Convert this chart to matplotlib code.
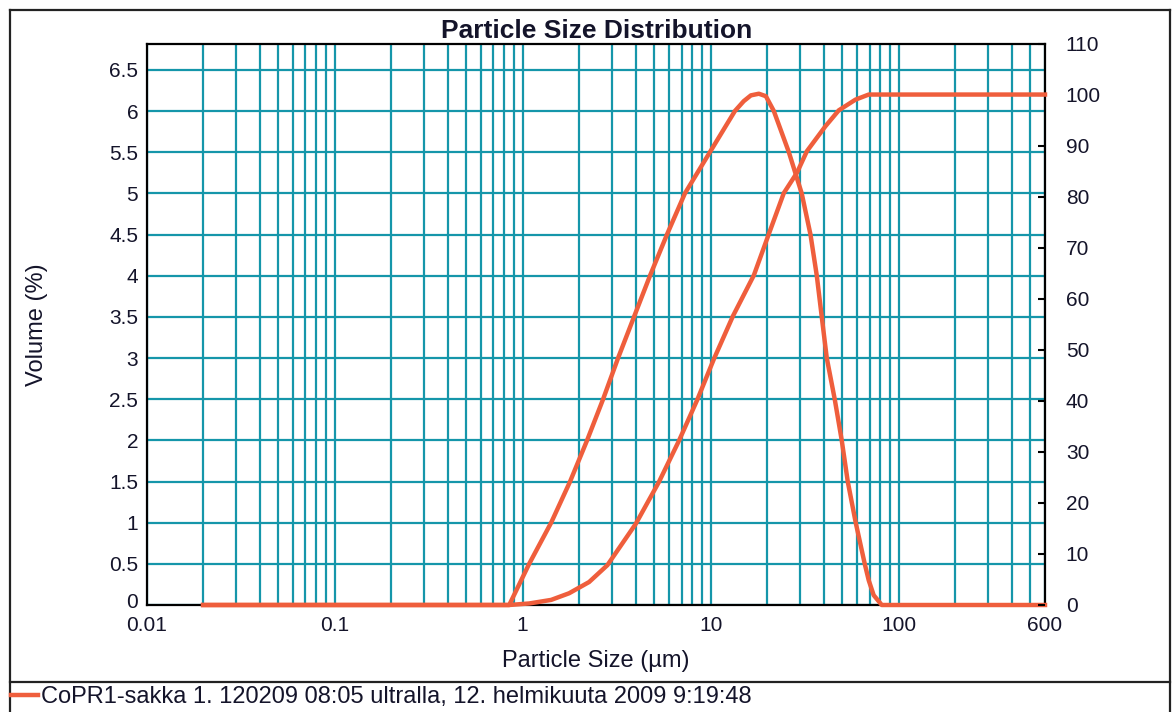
import matplotlib
matplotlib.use("Agg")
import matplotlib.pyplot as plt
from matplotlib.lines import Line2D
from matplotlib.transforms import offset_copy
from matplotlib.ticker import FixedLocator, NullFormatter, FixedFormatter

# Volume density (%) against particle size (µm)
density_size = [0.02, 0.849, 1.084, 1.419, 1.789, 2.203, 2.68, 3.22, 3.914, 4.76,
                5.86, 7.30, 9.91, 13.46, 15.0, 16.37, 18.05, 19.67, 21.68, 26.06,
                30.5, 33.96, 36.69, 38.99, 41.46, 45.7, 49.8, 53.6, 59.1, 66.0,
                69.3, 73.6, 81.3, 600]
density_vol = [0, 0, 0.5, 1.0, 1.5, 2.0, 2.5, 3.0, 3.5, 4.0,
               4.5, 5.0, 5.5, 6.0, 6.12, 6.19, 6.21, 6.18, 6.0, 5.5,
               5.0, 4.5, 4.0, 3.5, 3.0, 2.5, 2.0, 1.5, 1.0, 0.5,
               0.3, 0.12, 0, 0]

# Cumulative volume (%) against particle size (µm)
cum_size = [0.02, 0.849, 1.084, 1.419, 1.768, 2.258, 2.824, 3.999, 5.31, 6.79,
            8.49, 10.41, 13.14, 16.98, 20.4, 24.5, 28.8, 32.5, 40.8, 48.0,
            58.9, 69.3, 600]
cum_pct = [0, 0, 0.3, 1.0, 2.3, 4.5, 7.8, 15.9, 24.1, 32.2,
           40.2, 48.2, 56.6, 64.6, 72.7, 80.7, 84.7, 88.9, 93.8, 96.9,
           99.0, 100, 100]

x_tick_values = [0.01, 0.1, 1, 10, 100, 600]
x_tick_labels = ["0.01", "0.1", "1", "10", "100", "600"]
left_ticks = [0, 0.5, 1, 1.5, 2, 2.5, 3, 3.5, 4, 4.5, 5, 5.5, 6, 6.5]
left_labels = ["0", "0.5", "1", "1.5", "2", "2.5", "3", "3.5", "4", "4.5",
               "5", "5.5", "6", "6.5"]
right_ticks = [0, 10, 20, 30, 40, 50, 60, 70, 80, 90, 100, 110]

title = "Particle Size Distribution"
x_label = "Particle Size (µm)"
y_label = "Volume (%)"
series_label = "CoPR1-sakka 1. 120209 08:05 ultralla, 12. helmikuuta 2009 9:19:48"

LINE = "#ef5e3c"
GRID = "#1596aa"
TEXT = "#14142a"
FRAME = "#222222"

plt.rcParams["font.family"] = ["Liberation Sans", "DejaVu Sans"]

W, H = 1175, 712
fig = plt.figure(figsize=(W / 100, H / 100), dpi=100)
fig.patch.set_facecolor("white")

ax_l, ax_r, ax_t, ax_b = 146.5, 1045, 43.5, 605
ax = fig.add_axes([ax_l / W, 1 - ax_b / H, (ax_r - ax_l) / W, (ax_b - ax_t) / H])
ax.set_xscale("log")
ax.set_xlim(0.01, 600)
ax.set_ylim(0, 6.82)

minor = [m * 10.0 ** e for e in range(-2, 3) for m in range(2, 10)]
ax.xaxis.set_major_locator(FixedLocator(x_tick_values))
ax.xaxis.set_major_formatter(FixedFormatter(x_tick_labels))
ax.xaxis.set_minor_locator(FixedLocator(minor))
ax.xaxis.set_minor_formatter(NullFormatter())
ax.yaxis.set_major_locator(FixedLocator(left_ticks))
ax.yaxis.set_major_formatter(FixedFormatter(left_labels))

ax.grid(True, which="both", axis="x", color=GRID, lw=1.6)
ax.grid(True, which="major", axis="y", color=GRID, lw=1.6)
ax.set_axisbelow(True)
ax.tick_params(axis="both", which="both", length=0, labelsize=15, colors=TEXT)
ax.tick_params(axis="x", pad=8)
ax.tick_params(axis="y", pad=6)
for s in ax.spines.values():
    s.set_color("black")
    s.set_linewidth(1.6)

# Lift the "0" label on the volume axis a little so it clears "0.01"
zero_label = ax.yaxis.get_major_ticks()[0].label1
zero_label.set_transform(offset_copy(zero_label.get_transform(), fig=fig,
                                     y=5, units="dots"))

density_line, = ax.plot(density_size, density_vol, color=LINE, lw=3.2,
                        solid_joinstyle="round", zorder=4, clip_on=False)

ax2 = ax.twinx()
ax2.set_ylim(0, 110)
ax2.yaxis.set_major_locator(FixedLocator(right_ticks))
ax2.tick_params(axis="y", direction="in", length=5, width=1.5, color="black",
                labelsize=15, labelcolor=TEXT, pad=15)
for s in ax2.spines.values():
    s.set_visible(False)
ax2.plot(cum_size, cum_pct, color=LINE, lw=3.2, solid_joinstyle="round",
         zorder=4, clip_on=False)

# Titles and axis labels
fig.text(597 / W, 1 - 31 / H, title, ha="center", va="center",
         fontsize=19, fontweight="bold", color=TEXT)
fig.text(596 / W, 1 - 661 / H, x_label, ha="center", va="center",
         fontsize=17, color=TEXT)
fig.text(37 / W, 1 - 325 / H, y_label, ha="center", va="center",
         rotation=90, fontsize=17, color=TEXT)

# Outer frame with a strip for the series key
def fig_line(x0, y0, x1, y1):
    fig.add_artist(Line2D([x0 / W, x1 / W], [1 - y0 / H, 1 - y1 / H],
                          transform=fig.transFigure, color=FRAME, lw=1.6))

fig_line(10, 10, 1170, 10)
fig_line(10, 10, 10, 712)
fig_line(1170, 10, 1170, 712)
fig_line(10, 682, 1170, 682)

fig.legend([density_line], [series_label], loc="center left",
           bbox_to_anchor=(11 / W, 1 - 697 / H), frameon=False,
           fontsize=17, handlelength=1.15, handletextpad=0.1,
           borderpad=0, borderaxespad=0, labelcolor=TEXT)

fig.savefig("out.png", dpi=100, facecolor="white")
